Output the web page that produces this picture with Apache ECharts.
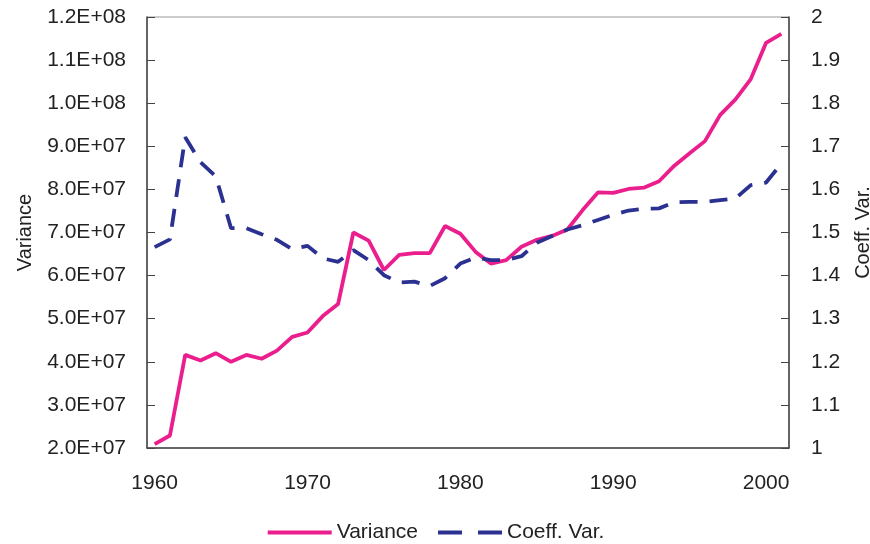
<!DOCTYPE html>
<html>
<head>
<meta charset="utf-8">
<script src="https://cdn.jsdelivr.net/npm/echarts@6/dist/echarts.min.js"></script>
<style>
  html, body { margin: 0; padding: 0; background: #fff; }
  #chart { width: 870px; height: 544px; }
</style>
</head>
<body>
<div id="chart"></div>
<script>
// years on the category axis
var years = []
for (var y = 1960; y <= 2001; y++) years.push(String(y))

// variance of the series
var variance = [
  2.09e7, 2.29e7, 4.16e7, 4.03e7, 4.20e7, 4.00e7, 4.16e7, 4.07e7, 4.26e7, 4.58e7,
  4.68e7, 5.06e7, 5.34e7, 7.00e7, 6.81e7, 6.13e7, 6.48e7, 6.52e7, 6.52e7, 7.15e7,
  6.97e7, 6.55e7, 6.28e7, 6.36e7, 6.67e7, 6.83e7, 6.92e7, 7.07e7, 7.52e7, 7.93e7,
  7.92e7, 8.01e7, 8.04e7, 8.19e7, 8.55e7, 8.84e7, 9.12e7, 9.73e7, 1.009e8, 1.056e8,
  1.140e8, 1.161e8
]

// coefficient of variation (right axis)
var coeffVar = [
  1.466, 1.484, 1.721, 1.663, 1.630, 1.510, 1.510, 1.496, 1.483, 1.461,
  1.469, 1.440, 1.432, 1.459, 1.436, 1.401, 1.384, 1.386, 1.376, 1.394,
  1.428, 1.442, 1.436, 1.436, 1.445, 1.476, 1.492, 1.507, 1.517, 1.529,
  1.541, 1.551, 1.555, 1.556, 1.570, 1.571, 1.571, 1.575, 1.579, 1.610,
  1.616, 1.660
]

var FONT = "'Liberation Sans', Arial, sans-serif"
var TXT = '#222'
var AXIS = '#444'

function sci (v) {
  var e = Math.floor(Math.log10(Math.abs(v)))
  var m = v / Math.pow(10, e)
  var es = (e < 10 ? '0' : '') + e
  return m.toFixed(1) + 'E+' + es
}

var option = {
  backgroundColor: '#fff',
  animation: false,
  textStyle: { fontFamily: FONT },
  grid: {
    left: 147,
    right: 81,
    top: 17,
    bottom: 96,
    outerBoundsMode: 'none',
    containLabel: false,
    show: true,
    borderColor: '#999',
    borderWidth: 1
  },
  legend: {
    top: 517,
    left: 'center',
    itemWidth: 64,
    itemHeight: 10,
    itemGap: 18,
    itemStyle: { opacity: 0 },
    lineStyle: { width: 4 },
    textStyle: { fontSize: 21, color: TXT, fontFamily: FONT },
    data: [
      { name: 'Variance' },
      { name: 'Coeff. Var.', lineStyle: { width: 4, type: [24, 16] } }
    ]
  },
  xAxis: {
    type: 'category',
    data: years,
    boundaryGap: true,
    axisLine: { lineStyle: { color: AXIS, width: 1.5 } },
    axisTick: { show: false },
    axisLabel: {
      interval: 9,
      margin: 25,
      fontSize: 21,
      color: TXT,
      fontFamily: FONT
    },
    splitLine: { show: false }
  },
  yAxis: [
    {
      type: 'value',
      name: 'Variance',
      nameLocation: 'middle',
      nameGap: 112,
      nameRotate: 90,
      nameTextStyle: { fontSize: 20, color: TXT, fontFamily: FONT },
      min: 2e7,
      max: 1.2e8,
      interval: 1e7,
      axisLine: { show: true, lineStyle: { color: AXIS, width: 1.5 } },
      axisTick: { show: true, inside: true, length: 8, lineStyle: { color: AXIS } },
      axisLabel: {
        margin: 21,
        fontSize: 21,
        color: TXT,
        fontFamily: FONT,
        formatter: sci
      },
      splitLine: { show: false }
    },
    {
      type: 'value',
      name: 'Coeff. Var.',
      nameLocation: 'middle',
      nameGap: 64,
      nameRotate: 90,
      nameTextStyle: { fontSize: 20, color: TXT, fontFamily: FONT },
      min: 1,
      max: 2,
      interval: 0.1,
      axisLine: { show: true, lineStyle: { color: AXIS, width: 1.5 } },
      axisTick: { show: true, inside: true, length: 8, lineStyle: { color: AXIS } },
      axisLabel: {
        margin: 22,
        fontSize: 21,
        color: TXT,
        fontFamily: FONT,
        formatter: function (v) { return String(+v.toFixed(1)) }
      },
      splitLine: { show: false }
    }
  ],
  series: [
    {
      name: 'Variance',
      type: 'line',
      yAxisIndex: 0,
      data: variance,
      symbol: 'none',
      lineStyle: { color: '#EA1E8C', width: 3.8 },
      itemStyle: { color: '#EA1E8C' }
    },
    {
      name: 'Coeff. Var.',
      type: 'line',
      yAxisIndex: 1,
      data: coeffVar,
      symbol: 'none',
      lineStyle: { color: '#2B3190', width: 3.8, type: [18, 12] },
      itemStyle: { color: '#2B3190' }
    }
  ]
}

var myChart = echarts.init(document.getElementById('chart'))
myChart.setOption(option)
</script>
</body>
</html>
